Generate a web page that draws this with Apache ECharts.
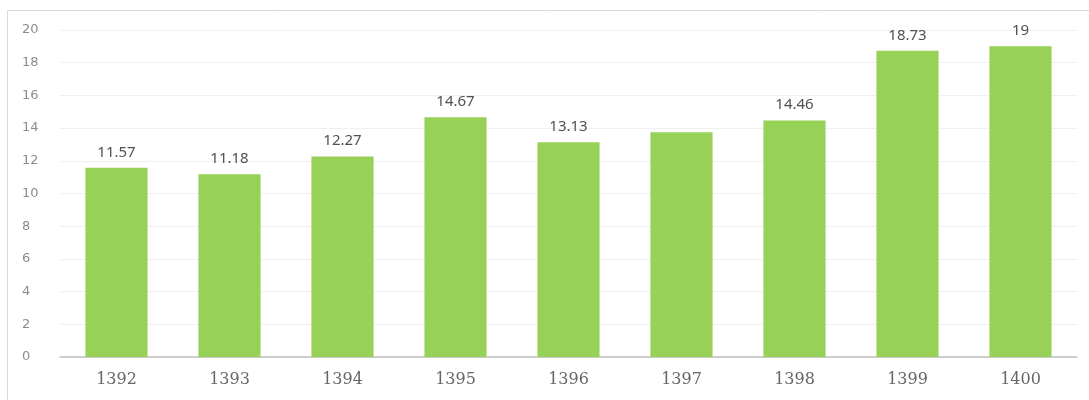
<!DOCTYPE html>
<html>
<head>
<meta charset="utf-8">
<script src="https://cdn.jsdelivr.net/npm/echarts@6/dist/echarts.min.js"></script>
<style>html,body{margin:0;padding:0;background:#fff;}#c{width:1089px;height:400px;}</style>
</head>
<body>
<div id="c"></div>
<script>
const categories = ['1392','1393','1394','1395','1396','1397','1398','1399','1400'];
const values = [11.57, 11.18, 12.27, 14.67, 13.13, 13.75, 14.46, 18.73, 19];
const hiddenLabels = ['1397'];
const yTicks = { min: 0, max: 20, interval: 2 };

const chart = echarts.init(document.getElementById('c'), null, { renderer: 'canvas' });
chart.setOption({
  animation: false,
  backgroundColor: '#fff',
  graphic: [{
    type: 'polyline',
    shape: { points: [[7.5, 400], [7.5, 10.5], [1089, 10.5]] },
    style: { stroke: '#d9d9d9', lineWidth: 1, fill: null },
    silent: true
  }],
  grid: { left: 60, right: 12, top: 30, bottom: 43 },
  xAxis: {
    type: 'category',
    data: categories,
    axisLine: { lineStyle: { color: '#bfbfbf', width: 1.5 } },
    axisTick: { show: false },
    axisLabel: { color: '#666666', fontFamily: 'DejaVu Serif', fontSize: 16, margin: 15 }
  },
  yAxis: {
    type: 'value',
    min: yTicks.min, max: yTicks.max, interval: yTicks.interval,
    axisLine: { show: false },
    axisTick: { show: false },
    splitLine: { lineStyle: { color: '#f0f0f0', width: 1 } },
    axisLabel: { color: '#8c8c8c', fontFamily: 'DejaVu Sans', fontSize: 13, margin: 38, align: 'left' }
  },
  series: [{
    type: 'bar',
    barWidth: '55%',
    data: values.map((v, i) => ({
      value: v,
      label: { show: hiddenLabels.indexOf(categories[i]) < 0 }
    })),
    itemStyle: { color: '#97d158' },
    label: {
      show: true, position: 'top', distance: 8,
      color: '#505050', fontFamily: 'Noto Sans', fontSize: 15
    }
  }]
});
</script>
</body>
</html>
